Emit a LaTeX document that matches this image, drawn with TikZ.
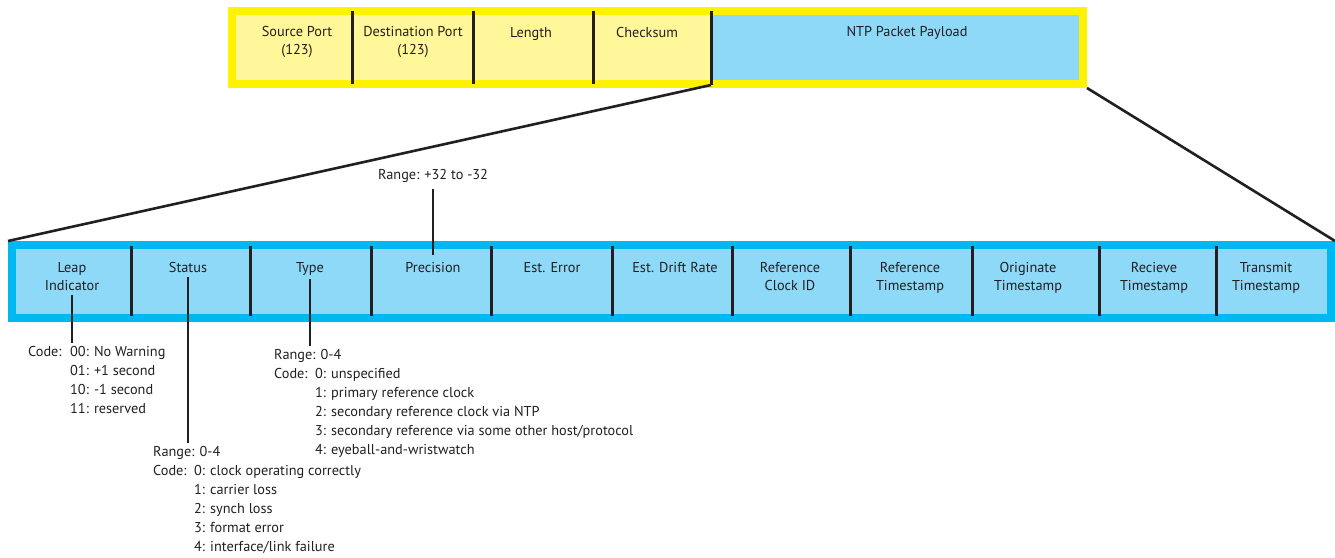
\documentclass[tikz,border=0pt]{standalone}
\usepackage{fontspec}
\setmainfont{PT Sans}
\usepackage{array}
\usetikzlibrary{positioning}
\definecolor{udpyellow}{HTML}{FFF200}
\definecolor{udpfill}{HTML}{FFF799}
\definecolor{ntpcyan}{HTML}{00B8F1}
\definecolor{ntpfill}{HTML}{8ED8F8}
\definecolor{inkgray}{HTML}{231F20}

\begin{document}
\begin{tikzpicture}[x=1pt,y=-1pt,font=\fontsize{14.3}{18}\selectfont,text=inkgray,
  udpframe/.style={draw=udpyellow,line width=8pt,fill=udpfill,inner sep=0pt},
  ntpframe/.style={draw=ntpcyan,line width=8pt,fill=ntpfill,inner sep=0pt},
  payloadbox/.style={fill=ntpfill,inner sep=0pt,outer sep=0pt},
  field/.style={align=center,anchor=north,inner sep=0pt},
  divider/.style={line width=3pt,inkgray},
  zoomline/.style={line width=2.6pt,inkgray},
  pointer/.style={line width=1.3pt,inkgray},
  note/.style={anchor=north west,inner sep=0pt,font=\fontsize{14.3}{19}\selectfont}]
  \useasboundingbox (0,0) rectangle (1335,557);

  % UDP header, payload highlighted.
  \node[udpframe,minimum width=851,minimum height=73] (udp) at (657.5,47.5) {};
  \node[payloadbox,minimum width=368,minimum height=65] (payload) at (895,47.5) {};
  \foreach \x in {352,473,593}
    \draw[divider] (\x,11) -- (\x,84);
  \coordinate (split) at (711,85);
  \draw[divider] (711,11) -- (split);

  \node[field] (srcport) at (297,26) {Source Port\\(123)};
  \node[field] (dstport) at (413,26) {Destination Port\\(123)};
  \node[field] (length) at (531,27) {Length};
  \node[field] (checksum) at (647,27) {Checksum};
  \node[field] (payloadlbl) at (907,26) {NTP Packet Payload};

  % NTP packet fields.
  \node[ntpframe,minimum width=1319,minimum height=73] (ntp) at (671.5,281.5) {};
  \foreach \x in {131,250,371,491,612,732,850,972,1099,1216}
    \draw[divider] (\x,246) -- (\x,316);

  \foreach \x/\name/\txt in {72/leap/{Leap\\Indicator},188/status/Status,310/type/Type,
      433/precision/Precision,552/esterror/Est. Error,675/drift/Est. Drift Rate,
      790/refid/{Reference\\Clock ID},910/refts/{Reference\\Timestamp},
      1028/origts/{Originate\\Timestamp},1154/recvts/{Recieve\\Timestamp},
      1266/xmitts/{Transmit\\Timestamp}}
    \node[field] (\name) at (\x,262) {\txt};

  % Zoom lines from payload to the packet.
  \draw[zoomline] (split) -- (ntp.north west);
  \draw[zoomline] (udp.south east) -- (ntp.north east);

  % Value notes.
  \node (precrange) at (433,176) {Range: +32 to -32};
  \draw[pointer,shorten <=3pt,shorten >=7pt] (precrange.south) -- (precision.north);

  \node[note] (leapnote) at (28,343) {\begin{tabular}{@{}p{42pt}@{}l@{}}
    Code: & 00: No Warning\\
          & 01: +1 second\\
          & 10: -1 second\\
          & 11: reserved
    \end{tabular}};
  \node[note] (statusnote) at (153,443) {\begin{tabular}{@{}p{41pt}@{}l@{}}
    \multicolumn{2}{@{}l@{}}{Range: 0-4}\\
    Code: & 0: clock operating correctly\\
          & 1: carrier loss\\
          & 2: synch loss\\
          & 3: format error\\
          & 4: interface/link failure
    \end{tabular}};
  \node[note] (typenote) at (274,346) {\begin{tabular}{@{}p{41pt}@{}l@{}}
    \multicolumn{2}{@{}l@{}}{Range: 0-4}\\
    Code: & 0: unspecified\\
          & 1: primary reference clock\\
          & 2: secondary reference clock via NTP\\
          & 3: secondary reference via some other host/protocol\\
          & 4: eyeball-and-wristwatch
    \end{tabular}};

  \draw[pointer,shorten <=4pt] (leap.south) -- (leap.south |- leapnote.north);
  \draw[pointer,shorten <=4pt] (status.south) -- (status.south |- statusnote.north);
  \draw[pointer,shorten <=4pt] (type.south) -- (type.south |- typenote.north);
\end{tikzpicture}
\end{document}
